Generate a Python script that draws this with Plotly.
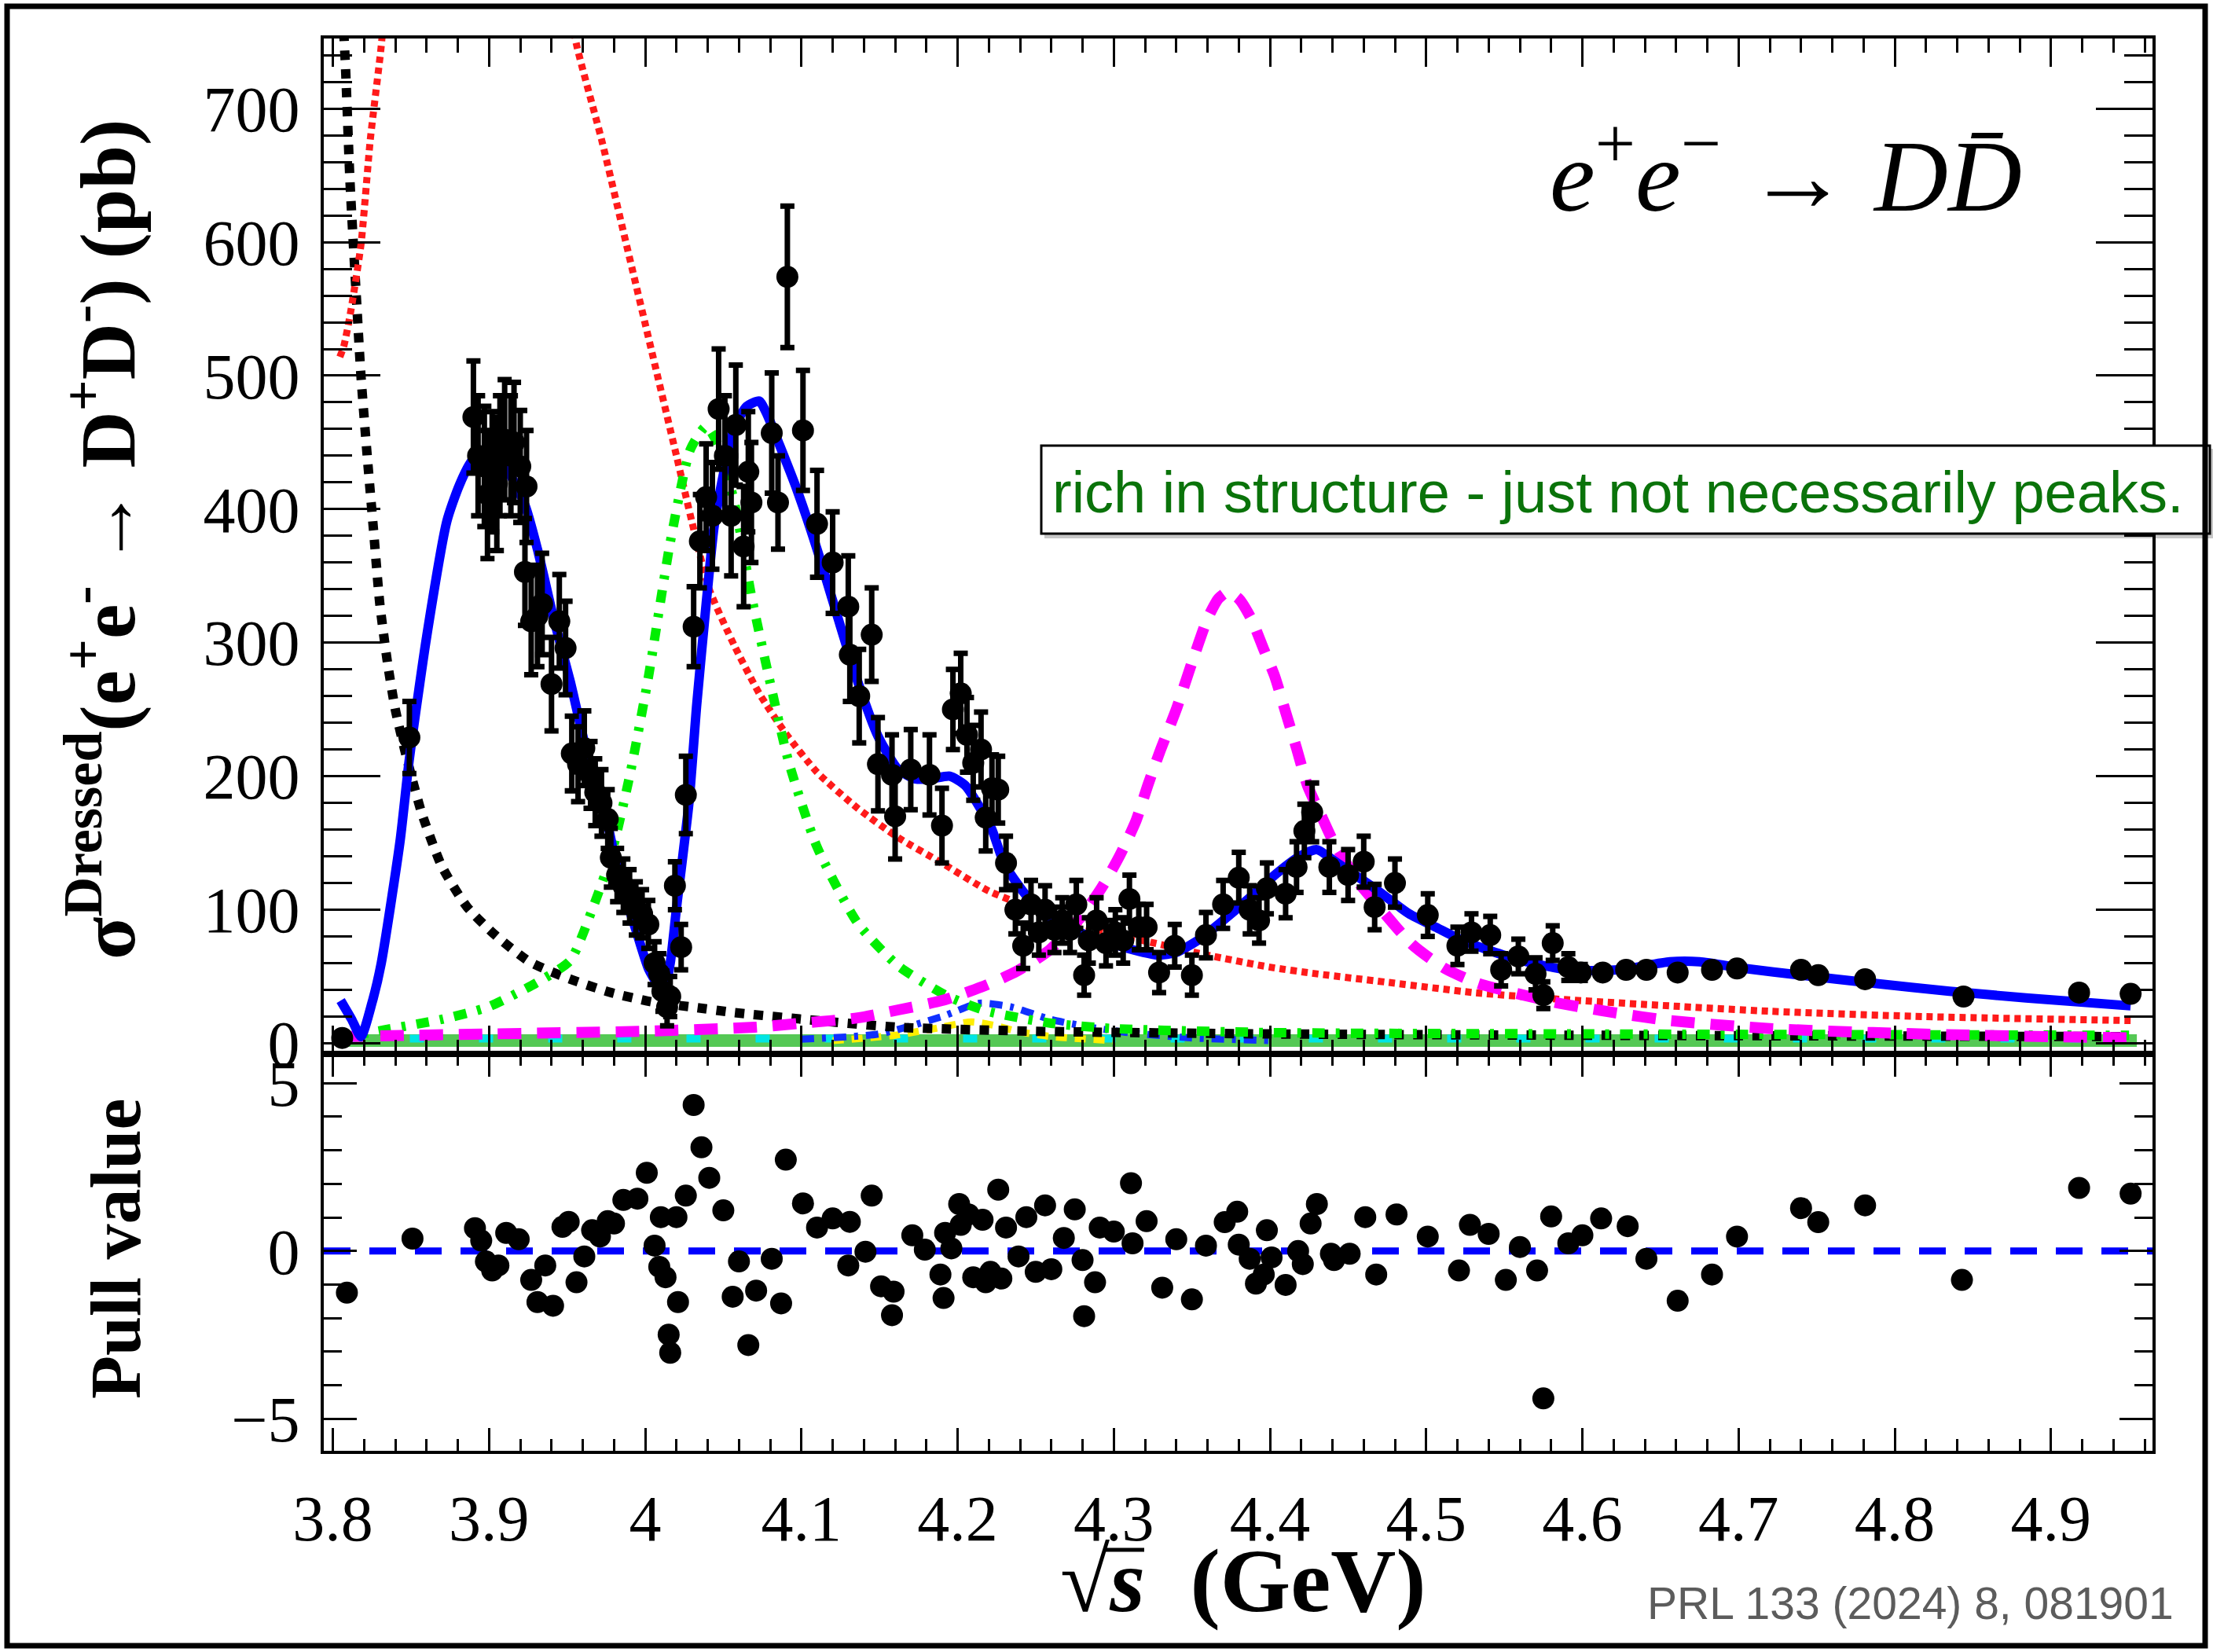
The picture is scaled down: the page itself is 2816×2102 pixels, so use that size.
import plotly.graph_objects as go

# ---------------- data ----------------
# top panel: dressed cross section data points (GeV, pb, pb)
xs_data = [3.806, 3.849, 3.890, 3.893, 3.897, 3.899, 3.902, 3.905, 3.907, 3.910, 3.914, 3.916, 3.920, 3.924,
           3.923, 3.927, 3.931, 3.934, 3.940, 3.945, 3.949, 3.953, 3.957, 3.961, 3.965, 3.968, 3.972, 3.976,
           3.978, 3.982, 3.986, 3.990, 3.994, 3.998, 4.002, 4.006, 4.009, 4.011, 4.014, 4.016, 4.019, 4.023,
           4.026, 4.031, 4.035, 4.039, 4.043, 4.047, 4.051, 4.055, 4.058, 4.063, 4.066, 4.068, 4.081, 4.085,
           4.091, 4.101, 4.110, 4.120, 4.130, 4.131, 4.137, 4.145, 4.149, 4.158, 4.160, 4.170, 4.182, 4.190,
           4.197, 4.202, 4.206, 4.210, 4.215, 4.218, 4.222, 4.226, 4.231, 4.237, 4.242, 4.247, 4.252, 4.256,
           4.262, 4.267, 4.272, 4.276, 4.281, 4.284, 4.289, 4.295, 4.301, 4.306, 4.310, 4.316, 4.321, 4.329,
           4.339, 4.350, 4.359, 4.370, 4.380, 4.387, 4.393, 4.398, 4.410, 4.417, 4.422, 4.427, 4.438, 4.450,
           4.460, 4.467, 4.480, 4.501, 4.520, 4.529, 4.541, 4.548, 4.559, 4.570, 4.575, 4.581, 4.591, 4.599,
           4.613, 4.628, 4.641, 4.661, 4.683, 4.699, 4.740, 4.751, 4.781, 4.844, 4.918, 4.951]
xsec_data = [4, 229, 469, 440, 432, 411, 428, 419, 440, 452, 440, 450, 432, 417,
             353, 316, 320, 329, 269, 316, 296, 217, 209, 221, 201, 188, 180, 168,
             139, 126, 118, 110, 101, 97, 89, 60, 52, 39, 27, 35, 118, 72,
             186, 312, 376, 409, 395, 475, 440, 395, 463, 372, 428, 405, 457, 405,
             574, 459, 389, 360, 327, 291, 260, 306, 209, 201, 170, 205, 201, 163,
             250, 262, 231, 210, 220, 169, 191, 190, 135, 100, 73, 104, 83, 100,
             85, 92, 85, 104, 51, 77, 92, 75, 83, 77, 108, 87, 87, 53,
             73, 51, 81, 104, 124, 100, 92, 116, 112, 132, 159, 173, 132, 126,
             136, 102, 120, 96, 73, 83, 81, 55, 65, 52, 36, 75, 57, 53,
             53, 55, 55, 53, 55, 56, 55, 51, 48, 35, 38, 37]
xsec_err = [4, 27, 42, 45, 45, 48, 45, 50, 45, 45, 45, 45, 42, 42,
            40, 40, 38, 38, 35, 35, 35, 28, 28, 28, 25, 25, 25, 22,
            22, 20, 20, 20, 20, 18, 18, 16, 15, 15, 14, 15, 18, 17,
            29, 30, 35, 40, 40, 45, 45, 45, 45, 45, 45, 45, 45, 35,
            53, 45, 40, 38, 38, 35, 35, 35, 35, 30, 32, 30, 30, 28,
            30, 30, 28, 28, 28, 25, 25, 25, 20, 18, 17, 18, 17, 18,
            17, 17, 17, 18, 15, 17, 17, 17, 17, 17, 18, 17, 17, 15,
            16, 15, 17, 18, 19, 18, 17, 19, 18, 19, 20, 22, 19, 19,
            19, 17, 18, 16, 14, 14, 14, 12, 13, 12, 10, 13, 10, 6,
            4, 4, 4, 4, 4, 4, 4, 4, 4, 4, 4, 4]

# bottom panel: pull values
xs_pull = [3.809, 3.851, 3.891, 3.895, 3.898, 3.902, 3.906, 3.911, 3.919, 3.927, 3.931, 3.936, 3.941, 3.947,
           3.951, 3.956, 3.961, 3.966, 3.971, 3.976, 3.980, 3.986, 3.995, 4.001, 4.006, 4.009, 4.010, 4.013,
           4.015, 4.016, 4.020, 4.021, 4.026, 4.031, 4.036, 4.041, 4.050, 4.056, 4.060, 4.066, 4.071, 4.081,
           4.087, 4.090, 4.101, 4.110, 4.120, 4.131, 4.130, 4.141, 4.145, 4.151, 4.159, 4.158, 4.171, 4.179,
           4.189, 4.191, 4.192, 4.196, 4.201, 4.202, 4.207, 4.210, 4.216, 4.218, 4.221, 4.226, 4.228, 4.231,
           4.239, 4.244, 4.250, 4.256, 4.260, 4.268, 4.275, 4.280, 4.281, 4.288, 4.291, 4.300, 4.311, 4.312,
           4.321, 4.331, 4.340, 4.350, 4.359, 4.371, 4.379, 4.380, 4.387, 4.391, 4.396, 4.398, 4.401, 4.410,
           4.418, 4.421, 4.426, 4.430, 4.439, 4.441, 4.451, 4.461, 4.468, 4.481, 4.501, 4.521, 4.528, 4.540,
           4.551, 4.560, 4.571, 4.575, 4.580, 4.591, 4.600, 4.612, 4.629, 4.641, 4.661, 4.683, 4.699, 4.740,
           4.751, 4.781, 4.843, 4.918, 4.951]
pull_vals = [-1.24, 0.37, 0.68, 0.31, -0.31, -0.58, -0.43, 0.54, 0.35, -0.86, -1.52, -0.43, -1.63, 0.72,
             0.87, -0.93, -0.16, 0.62, 0.43, 0.89, 0.82, 1.52, 1.56, 2.33, 0.16, -0.47, 1.01, -0.78,
             -2.49, -3.03, 1.01, -1.52, 1.65, 4.35, 3.09, 2.18, 1.21, -1.36, -0.31, -2.80, -1.18, -0.23,
             -1.56, 2.72, 1.42, 0.70, 0.97, 0.87, -0.43, -0.02, 1.65, -1.05, -1.21, -1.91, 0.47, 0.04,
             -0.70, -1.40, 0.54, 0.08, 1.40, 0.78, 1.09, -0.78, 0.93, -0.93, -0.62, 1.83, -0.82, 0.70,
             -0.16, 1.01, -0.62, 1.36, -0.54, 0.39, 1.24, -0.27, -1.94, -0.93, 0.70, 0.58, 2.02, 0.23,
             0.89, -1.09, 0.35, -1.44, 0.16, 0.86, 1.17, 0.19, -0.23, -0.97, -0.70, 0.62, -0.19, -1.01,
             0.00, -0.39, 0.82, 1.40, -0.08, -0.27, -0.08, 1.01, -0.70, 1.09, 0.43, -0.58, 0.78, 0.51,
             -0.86, 0.12, -0.58, -4.39, 1.03, 0.23, 0.47, 0.97, 0.74, -0.23, -1.48, -0.70, 0.43, 1.28,
             0.86, 1.36, -0.86, 1.88, 1.71]

# total fit (solid blue)
fit_x = [3.805, 3.812, 3.818, 3.825, 3.831, 3.843, 3.849, 3.860, 3.873, 3.881, 3.889, 3.897, 3.910, 3.923,
         3.931, 3.941, 3.952, 3.962, 3.973, 3.983, 3.994, 4.002, 4.008, 4.012, 4.016, 4.020, 4.028, 4.033,
         4.039, 4.044, 4.049, 4.057, 4.065, 4.073, 4.078, 4.086, 4.097, 4.110, 4.123, 4.136, 4.149, 4.162,
         4.173, 4.183, 4.195, 4.205, 4.215, 4.222, 4.230, 4.243, 4.255, 4.271, 4.290, 4.309, 4.328, 4.340,
         4.355, 4.370, 4.386, 4.401, 4.419, 4.430, 4.443, 4.467, 4.489, 4.506, 4.525, 4.558, 4.590, 4.623,
         4.656, 4.675, 4.704, 4.740, 4.786, 4.835, 4.884, 4.951]
fit_y = [32, 18, 5, 30, 60, 151, 213, 304, 391, 418, 436, 440, 432, 403,
         370, 320, 271, 221, 180, 126, 85, 56, 44, 40, 60, 101, 180, 254,
         329, 386, 420, 461, 477, 481, 471, 448, 415, 370, 320, 271, 230, 205,
         198, 198, 200, 193, 175, 160, 134, 112, 96, 86, 78, 71, 66, 68,
         78, 92, 108, 124, 140, 145, 135, 116, 97, 87, 76, 63, 55, 55,
         61, 61, 56, 51, 45, 39, 34, 28]

# components
black_x = [3.8050, 3.808, 3.811, 3.815, 3.818, 3.822, 3.826, 3.830, 3.835, 3.840, 3.847, 3.857, 3.870, 3.886,
           3.904, 3.926, 3.952, 3.978, 4.004, 4.031, 4.057, 4.110, 4.162, 4.25, 4.40, 4.60, 4.95]
black_y = [800, 734, 645, 560, 500, 440, 385, 330, 285, 250, 215, 172, 132, 102,
           81, 61, 48, 38, 31, 27, 23, 17, 12, 9, 7, 6, 5]

red_x = [3.8045, 3.807, 3.811, 3.818, 3.824, 3.831, 3.834, None,
         3.950, 3.956, 3.972, 3.988, 4.004, 4.020, 4.030, 4.041, 4.057, 4.073, 4.090, 4.110, 4.136,
         4.162, 4.190, 4.220, 4.260, 4.300, 4.330, 4.360, 4.400, 4.430, 4.480, 4.530, 4.585, 4.656,
         4.720, 4.818, 4.951]
red_y = [514, 522, 545, 598, 677, 747, 790, None,
         790, 748, 677, 598, 519, 440, 390, 340, 298, 262, 232, 203, 176,
         154, 135, 114, 96, 82, 74, 66, 57, 52, 45, 38, 33, 28,
         24, 20, 17]

green_x = [3.805, 3.833, 3.870, 3.899, 3.930, 3.952, 3.966, 3.978, 3.990, 4.002, 4.016, 4.029, 4.039, 4.048,
           4.058, 4.068, 4.080, 4.092, 4.110, 4.136, 4.162, 4.194, 4.219, 4.260, 4.300, 4.400, 4.600, 4.950]
green_y = [4, 10, 18, 27, 45, 62, 100, 140, 200, 274, 375, 445, 462, 445,
           400, 335, 270, 210, 147, 90, 58, 35, 24, 15, 11, 8, 7, 6]

magenta_x = [3.805, 3.900, 4.000, 4.070, 4.100, 4.136, 4.162, 4.190, 4.215, 4.238, 4.259, 4.280, 4.293, 4.304,
             4.314, 4.322, 4.330, 4.340, 4.350, 4.360, 4.367, 4.373, 4.380, 4.388, 4.396, 4.403, 4.410, 4.417,
             4.424, 4.433, 4.441, 4.457, 4.467, 4.491, 4.512, 4.533, 4.559, 4.585, 4.620, 4.656, 4.720, 4.786,
             4.851, 4.951]
magenta_y = [5, 7, 9, 12, 15, 19, 25, 32, 42, 54, 70, 96, 118, 141,
             166, 194, 220, 250, 285, 318, 333, 338, 333, 318, 295, 275, 248, 221,
             193, 170, 150, 120, 106, 74, 56, 45, 37, 30, 23, 17, 11, 8,
             6, 4]

yellow_x = [4.120, 4.160, 4.185, 4.209, 4.225, 4.238, 4.260, 4.300]
yellow_y = [2, 6, 11, 16, 13, 9, 5, 2]

blue_small_x = [4.100, 4.150, 4.190, 4.214, 4.235, 4.259, 4.285, 4.309, 4.350, 4.400]
blue_small_y = [3, 7, 20, 30, 27, 18, 12, 8, 4, 2]

band_x = [3.805, 4.955]
band_y = [2, 2]

x_ticks = [3.8, 3.9, 4.0, 4.1, 4.2, 4.3, 4.4, 4.5, 4.6, 4.7, 4.8, 4.9]
x_tick_text = ["3.8", "3.9", "4", "4.1", "4.2", "4.3", "4.4", "4.5", "4.6", "4.7", "4.8", "4.9"]
pull_ticks = [-5, 0, 5]
pull_tick_text = ["\u22125", "0", "5"]

# ---------------- figure ----------------
SERIF = "Liberation Serif, Times New Roman, serif"
SANS = "Liberation Sans, Arial, Helvetica, sans-serif"

fig = go.Figure()

def comp(x, y, color, width, dash, name, shape="linear"):
    fig.add_trace(go.Scatter(x=x, y=y, mode="lines", name=name, xaxis="x", yaxis="y",
                             line=dict(color=color, width=width, dash=dash, shape=shape, smoothing=0.6),
                             hoverinfo="skip"))

comp(band_x, band_y, "#55c855", 16, "solid", "band")
comp(band_x, [3.5, 3.5], "#00e5e5", 10, "18px,70px", "cyan")
comp(yellow_x, yellow_y, "#ffee00", 9, "14px,10px", "yellow", "spline")
comp(blue_small_x, blue_small_y, "#1030ff", 9, "16px,10px,5px,10px", "blue small", "spline")
comp(black_x, black_y, "black", 12, "12px,12px", "black", "spline")
comp(red_x, red_y, "#ff1a1a", 9, "8px,6px", "red", "spline")
comp(green_x, green_y, "#00ee00", 12, "16px,14px,5px,14px", "green", "spline")
comp(magenta_x, magenta_y, "#ff00ff", 14, "30px,20px", "magenta", "spline")
comp(fit_x, fit_y, "#0000ff", 12, "solid", "fit", "spline")

fig.add_trace(go.Scatter(x=xs_data, y=xsec_data, mode="markers", xaxis="x", yaxis="y",
                         marker=dict(color="black", size=28),
                         error_y=dict(type="data", array=xsec_err, color="black", thickness=7, width=9),
                         hoverinfo="skip", name="data"))

fig.add_trace(go.Scatter(x=[3.7942, 4.965], y=[0, 0], mode="lines", xaxis="x2", yaxis="y2",
                         line=dict(color="#0000ff", width=9, dash="34px,24px"), hoverinfo="skip"))
fig.add_trace(go.Scatter(x=xs_pull, y=pull_vals, mode="markers", xaxis="x2", yaxis="y2",
                         marker=dict(color="black", size=28), hoverinfo="skip"))

XR = [3.7942, 4.965]
axis_common = dict(showline=True, linewidth=4, linecolor="black", mirror="allticks",
                   ticks="inside", tickwidth=3, tickcolor="black", showgrid=False, zeroline=False)

fig.update_layout(
    width=2816, height=2102,
    margin=dict(l=412, r=77, t=49, b=256),
    paper_bgcolor="white", plot_bgcolor="white",
    showlegend=False,
    xaxis=dict(domain=[0, 1], anchor="y", range=XR, tick0=3.8, dtick=0.1, ticklen=36,
               showticklabels=False,
               minor=dict(ticks="inside", ticklen=18, tickwidth=3, tick0=3.8, dtick=0.02, tickcolor="black"),
               **axis_common),
    yaxis=dict(domain=[0.281, 1], anchor="x", range=[-8, 752.5], tick0=0, dtick=100, ticklen=72,
               tickfont=dict(family=SERIF, size=82, color="black"), ticklabelstandoff=10,
               minor=dict(ticks="inside", ticklen=36, tickwidth=3, tick0=0, dtick=20, tickcolor="black"),
               **axis_common),
    xaxis2=dict(domain=[0, 1], anchor="y2", range=XR, tickvals=x_ticks, ticktext=x_tick_text, ticklen=29,
                tickfont=dict(family=SERIF, size=82, color="black"), ticklabelstandoff=12,
                minor=dict(ticks="inside", ticklen=15, tickwidth=3, tick0=3.8, dtick=0.02, tickcolor="black"),
                **axis_common),
    yaxis2=dict(domain=[0, 0.281], anchor="x2", range=[-5.95, 5.87], tickvals=pull_ticks,
                ticktext=pull_tick_text, ticklen=42,
                tickfont=dict(family=SERIF, size=82, color="black"), ticklabelstandoff=10,
                minor=dict(ticks="inside", ticklen=23, tickwidth=3, tick0=0, dtick=1, tickcolor="black"),
                **axis_common),
)

PW, PH, L, T = 2327.0, 1797.0, 412.0, 49.0
def px(xp):
    return (xp - L) / PW
def py(yp):
    return 1 - (yp - T) / PH

ann = []
ann.append(dict(text="<b>\u03c3<sup>Dressed</sup>(e<sup>+</sup>e<sup>-</sup> \u2192 D<sup>+</sup>D<sup>-</sup>) (pb)</b>",
                x=px(130), y=py(687), textangle=-90, font=dict(family=SERIF, size=100, color="black")))
ann.append(dict(text="<b>Pull value</b>", x=px(147), y=py(1589), textangle=-90,
                font=dict(family=SERIF, size=90, color="black")))
ann.append(dict(text="<b>\u221a<i>s</i>  (GeV)</b>", x=px(1582), y=py(2012),
                font=dict(family=SERIF, size=115, color="black")))
ann.append(dict(text="<i>e</i><sup>+</sup><i>e</i><sup>\u2212</sup> \u2192 <i>D</i><i>D\u0304</i>",
                x=px(2272), y=py(214), font=dict(family=SERIF, size=130, color="black")))
ann.append(dict(text="rich in structure - just not necessarily peaks.", x=px(1337), y=py(626),
                xanchor="left", font=dict(family=SANS, size=74, color="#0a730a")))
ann.append(dict(text="PRL 133 (2024) 8, 081901", x=px(2768), y=py(2040), xanchor="right",
                font=dict(family=SANS, size=57, color="#5c5c5c")))
for a in ann:
    a.setdefault("xanchor", "center")
    a.update(xref="paper", yref="paper", yanchor="middle", showarrow=False)
fig.update_layout(annotations=ann)

shapes = []
# green box shadow and box
shapes.append(dict(type="rect", xref="paper", yref="paper", x0=px(1329), x1=px(2816), y0=py(685), y1=py(571),
                   fillcolor="rgba(0,0,0,0.22)", line=dict(width=0), layer="above"))
shapes.append(dict(type="rect", xref="paper", yref="paper", x0=px(1325), x1=px(2812), y0=py(679), y1=py(567),
                   fillcolor="white", line=dict(color="black", width=3), layer="above"))
# vinculum of the square root in the x title
shapes.append(dict(type="line", xref="paper", yref="paper", x0=px(1404), x1=px(1456), y0=py(1972), y1=py(1972),
                   line=dict(color="black", width=5), layer="above"))
# outer frame
shapes.append(dict(type="rect", xref="paper", yref="paper", x0=px(9), x1=px(2806), y0=py(2094), y1=py(8),
                   line=dict(color="black", width=7), layer="above"))
fig.update_layout(shapes=shapes)

fig.write_html("out.html", config={"displayModeBar": False},
               post_script="document.body.style.margin='0';document.body.style.overflow='hidden';")
